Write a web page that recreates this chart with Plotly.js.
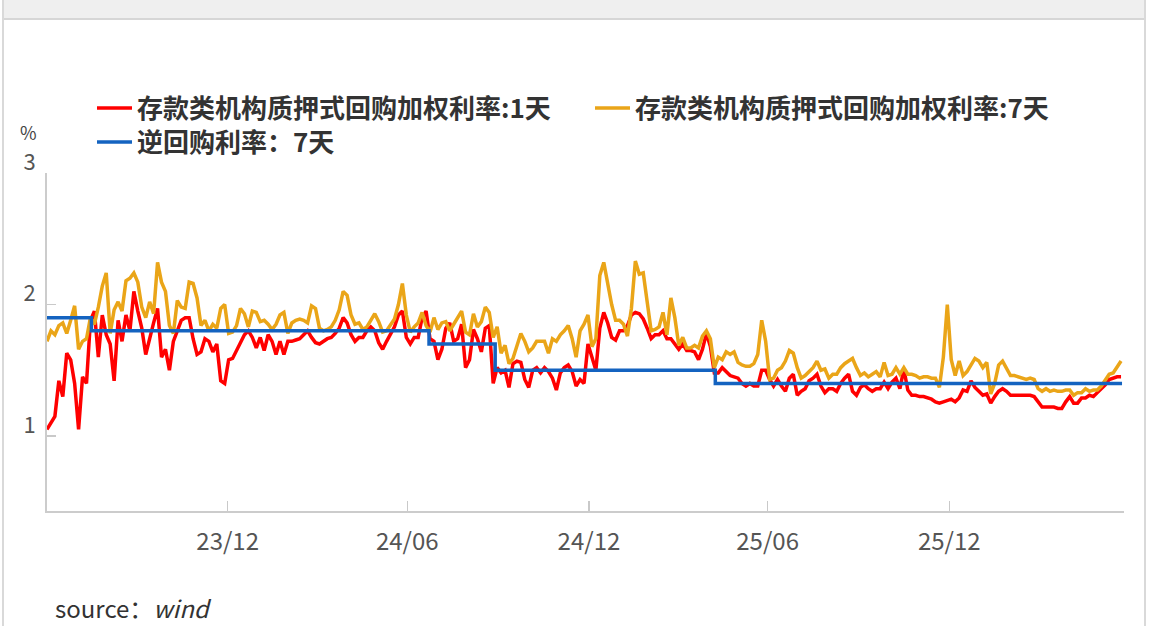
<!DOCTYPE html>
<html>
<head>
<meta charset="utf-8">
<script src="https://cdn.plot.ly/plotly-3.0.1.min.js"></script>
<style>
  html, body { margin:0; padding:0; background:#ffffff; width:1156px; height:626px; overflow:hidden; }
  #frame { position:absolute; left:2px; top:0; width:1140px; height:626px; border-left:2px solid #d9d9d9; border-right:2px solid #d9d9d9; background:#fff; }
  #band { position:absolute; left:0; top:0; width:1140px; height:18px; background:#efefef; border-bottom:2px solid #d6d6d6; }
  #chart { position:absolute; left:0; top:0; width:1156px; height:626px; }
</style>
</head>
<body>
<div id="frame"><div id="band"></div></div>
<div id="chart"></div>
<script>
// ---- sampling calendar: one reading every 4 calendar days from the first visible day ----
const startDate = '2023-07-01';
const stepDays = 4;

// ---- 存款类机构质押式回购加权利率:1天 (%) ----
const rate1d = [
  1.05,1.10,1.15,1.42,1.30,1.63,1.58,1.40,1.05,1.45,
  1.40,1.88,1.95,1.60,1.92,1.77,1.70,1.42,1.88,1.72,
  1.92,1.80,2.10,1.95,1.82,1.62,1.75,1.86,1.97,1.60,
  1.66,1.50,1.72,1.80,1.88,1.90,1.90,1.74,1.62,1.64,
  1.74,1.72,1.64,1.70,1.42,
  1.40,1.58,1.59,1.65,1.72,
  1.77,1.80,1.75,1.67,1.75,1.65,1.77,1.72,1.62,1.72,
  1.62,1.72,1.72,1.73,1.74,1.77,1.80,1.75,1.71,1.70,
  1.72,1.74,1.75,1.78,1.82,1.90,1.86,1.77,1.72,1.75,
  1.75,1.80,1.83,1.80,1.71,1.66,1.72,1.77,1.83,1.92,1.95,
  1.75,1.70,1.75,1.75,1.90,1.95,1.74,1.72,1.58,1.66,
  1.82,1.86,1.72,1.74,1.85,1.52,1.58,1.81,1.74,1.64,
  1.82,1.84,1.40,1.52,1.48,1.50,1.37,1.55,1.57,1.56,
  1.43,1.37,1.50,1.52,1.48,1.52,1.49,1.44,1.35,1.48,
  1.52,1.54,1.49,1.38,1.43,
  1.40,1.70,1.60,1.50,1.82,1.94,1.86,1.75,1.73,1.80,
  1.80,1.84,1.92,1.94,1.93,1.89,1.82,1.74,1.77,1.77,
  1.80,1.74,1.74,1.70,1.66,1.70,1.65,1.65,1.64,1.58,
  1.66,1.78,1.68,1.48,1.48,1.52,1.49,1.46,1.45,1.44,
  1.40,1.38,1.40,1.38,1.38,
  1.50,1.50,1.43,1.38,1.43,1.38,1.34,1.44,1.47,1.31,
  1.34,1.36,1.42,1.44,1.47,1.38,1.33,1.36,1.36,1.34,
  1.40,1.44,1.47,1.34,1.31,1.37,1.39,1.36,1.34,1.36,
  1.36,1.41,1.36,1.41,1.44,1.36,1.51,1.35,1.31,1.31,
  1.30,1.30,1.29,1.28,1.26,1.25,
  1.26,1.27,1.28,1.26,1.29,1.35,1.34,1.42,1.37,1.34,
  1.31,1.32,1.25,1.30,1.34,1.36,1.34,1.31,1.31,1.31,
  1.31,1.31,1.31,1.30,1.26,1.22,1.22,1.22,1.22,1.21,
  1.21,1.26,1.30,1.25,1.25,1.29,1.29,1.31,1.30,1.33,
  1.36,1.39,1.43,1.44,1.45,1.45
];

// ---- 存款类机构质押式回购加权利率:7天 (%) ----
const rate7d = [
  1.72,1.80,1.77,1.84,1.86,1.78,1.88,1.99,1.66,1.72,
  1.74,1.90,1.85,1.98,2.14,2.24,1.78,1.96,2.02,1.95,
  2.18,2.20,2.24,2.17,1.98,1.90,2.02,1.93,2.32,2.17,
  2.10,1.84,1.78,2.03,1.98,1.97,2.17,2.16,2.05,1.84,
  1.88,1.80,1.85,1.82,1.97,
  2.00,1.78,1.79,1.84,1.97,
  1.93,1.83,1.95,1.94,1.87,1.88,1.85,1.81,1.85,1.92,
  1.94,1.78,1.86,1.88,1.89,1.88,1.86,1.99,1.97,1.82,
  1.80,1.81,1.83,1.88,1.96,2.10,2.07,1.92,1.85,1.86,
  1.81,1.83,1.88,1.93,1.87,1.79,1.80,1.85,1.89,2.00,2.16,
  1.92,1.79,1.83,1.86,1.94,1.84,1.79,1.90,1.81,1.86,
  1.87,1.80,1.85,1.90,1.95,1.79,1.77,1.93,1.83,1.87,
  1.98,1.94,1.75,1.83,1.63,1.69,1.55,1.59,1.68,1.78,
  1.72,1.64,1.67,1.72,1.72,1.72,1.63,1.74,1.72,1.77,
  1.80,1.84,1.74,1.60,1.80,
  1.85,1.92,1.68,1.74,2.22,2.32,2.16,2.00,1.88,1.88,
  1.85,1.76,1.97,2.33,2.23,2.24,2.02,1.80,1.81,1.83,
  1.94,1.77,2.05,1.90,1.69,1.75,1.67,1.67,1.69,1.67,
  1.76,1.80,1.74,1.52,1.60,1.58,1.64,1.62,1.64,1.56,
  1.54,1.53,1.53,1.55,1.62,
  1.88,1.72,1.43,1.44,1.50,1.52,1.57,1.65,1.63,1.52,
  1.44,1.46,1.49,1.52,1.57,1.50,1.51,1.44,1.47,1.47,
  1.52,1.55,1.57,1.59,1.52,1.46,1.48,1.45,1.47,1.49,
  1.45,1.56,1.46,1.47,1.52,1.47,1.52,1.47,1.47,1.46,
  1.44,1.45,1.45,1.44,1.44,1.37,
  1.60,2.00,1.58,1.46,1.57,1.46,1.49,1.54,1.59,1.57,
  1.52,1.56,1.32,1.40,1.54,1.57,1.52,1.46,1.46,1.45,
  1.44,1.43,1.44,1.43,1.36,1.34,1.36,1.34,1.35,1.34,
  1.34,1.35,1.35,1.31,1.33,1.33,1.36,1.34,1.35,1.35,
  1.38,1.43,1.47,1.48,1.52,1.57
];

// ---- 逆回购利率：7天 (policy rate steps) ----
const rrDates = ['2023-07-01','2023-08-15','2024-07-22','2024-09-27','2025-05-08','2026-06-24'];
const rrRates = [1.9, 1.8, 1.7, 1.5, 1.4, 1.4];

// ---- axis labels ----
const xTickVals = ['2023-12-31','2024-06-30','2024-12-31','2025-06-30','2025-12-31'];
const xTickText = ['23/12','24/06','24/12','25/06','25/12'];
const yTickVals = [1, 2, 3];
const xRange = ['2023-07-01','2026-06-26'];
const yRange = [0.43, 3];

const names = ['存款类机构质押式回购加权利率:1天', '存款类机构质押式回购加权利率:7天', '逆回购利率：7天'];

// build the sampling dates
const dates = [];
{
  const d0 = new Date(startDate + 'T00:00:00Z');
  for (let i = 0; i < rate1d.length; i++) {
    const d = new Date(d0.getTime() + i * stepDays * 86400000);
    dates.push(d.toISOString().slice(0, 10));
  }
}

const FONT = '"Noto Sans CJK SC", "Noto Sans", sans-serif';

const traces = [
  { type:'scatter', mode:'lines', name:names[0], x:dates, y:rate1d,
    line:{color:'#ff0000', width:3.5}, legend:'legend', hoverinfo:'x+y' },
  { type:'scatter', mode:'lines', name:names[1], x:dates, y:rate7d,
    line:{color:'#eaa518', width:3.5}, legend:'legend2', hoverinfo:'x+y' },
  { type:'scatter', mode:'lines', name:names[2], x:rrDates, y:rrRates,
    line:{color:'#1463c0', width:3.5, shape:'hv'}, legend:'legend3', hoverinfo:'x+y' }
];

const W = 1156, H = 626, L = 47, R = 32, T = 173, B = 115;
const pw = W - L - R, ph = H - T - B;
const px = v => (v - L) / pw;        // pixel x -> paper x
const py = v => (H - B - v) / ph;    // pixel y -> paper y

const legendBase = { orientation:'v', bgcolor:'rgba(0,0,0,0)', borderwidth:0,
  font:{family:FONT, size:26, color:'#333333', weight:'bold'}, itemwidth:35,
  xanchor:'left', yanchor:'middle', tracegroupgap:0 };

const layout = {
  width:W, height:H,
  margin:{l:L, r:R, t:T, b:B, pad:0},
  paper_bgcolor:'rgba(0,0,0,0)', plot_bgcolor:'rgba(0,0,0,0)',
  showlegend:true,
  font:{family:FONT},
  legend:  Object.assign({}, legendBase, {x:px(92),  y:py(108)}),
  legend2: Object.assign({}, legendBase, {x:px(590), y:py(108)}),
  legend3: Object.assign({}, legendBase, {x:px(92),  y:py(142)}),
  xaxis:{
    type:'date', range:xRange, tickmode:'array', tickvals:xTickVals, ticktext:xTickText,
    ticks:'inside', ticklen:10, tickwidth:1.5, tickcolor:'#c9c9c9',
    showline:true, linecolor:'#cccccc', linewidth:2, showgrid:false, zeroline:false,
    tickfont:{family:FONT, size:24, color:'#555555'}, ticklabelstandoff:8, fixedrange:true
  },
  yaxis:{
    range:yRange, tickmode:'array', tickvals:yTickVals, ticktext:['1','2','3'],
    ticks:'inside', ticklen:9, tickwidth:1.5, tickcolor:'#c9c9c9',
    showline:true, linecolor:'#cccccc', linewidth:2, showgrid:false, zeroline:false,
    tickfont:{family:FONT, size:22, color:'#555555'}, ticklabelshift:-11, ticklabelstandoff:5, fixedrange:true
  },
  annotations:[
    { text:'%', xref:'paper', yref:'paper', x:px(28), y:py(132), xanchor:'center', yanchor:'middle',
      showarrow:false, font:{family:FONT, size:18, color:'#444444'} },
    { text:'source：<i>wind</i>', xref:'paper', yref:'paper', x:px(53), y:py(607), xanchor:'left', yanchor:'middle',
      showarrow:false, font:{family:FONT, size:24, color:'#333333'} }
  ]
};

Plotly.newPlot('chart', traces, layout, {displayModeBar:false, staticPlot:true});
</script>
</body>
</html>
